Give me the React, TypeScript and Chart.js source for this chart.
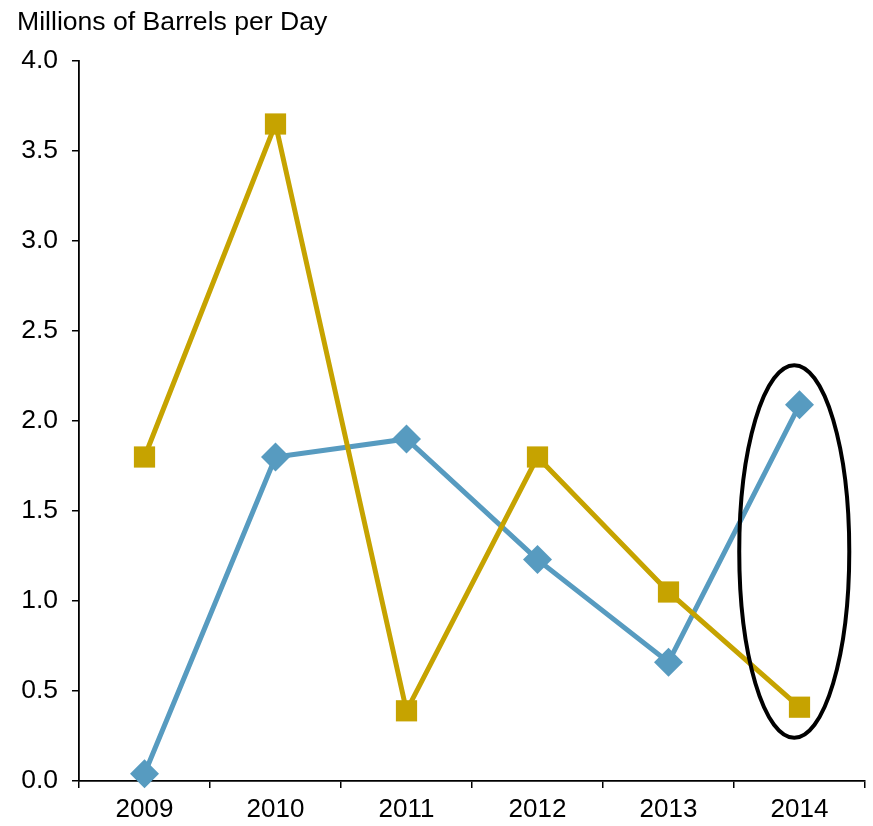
import React, { useEffect, useRef } from "react";
import { Chart, registerables } from "chart.js";

Chart.register(...registerables);

const years = ["2009", "2010", "2011", "2012", "2013", "2014"];
const goldSeries = [1.8, 3.65, 0.39, 1.8, 1.05, 0.41];
const blueSeries = [0.04, 1.8, 1.9, 1.23, 0.66, 2.09];
const yTicks = [0, 0.5, 1, 1.5, 2, 2.5, 3, 3.5, 4];
const axisTitle = "Millions of Barrels per Day";

// highlight ring around the last year (value range it spans)
const ringYear = 5;
const ringTop = 2.31;
const ringBottom = 0.24;

const FONT = "'Liberation Sans', Arial, Helvetica, sans-serif";
const GOLD = "#C6A300";
const BLUE = "#579BC0";

const titlePlugin = {
  id: "axisTitleText",
  afterDraw(chart: any) {
    const ctx = chart.ctx;
    ctx.save();
    ctx.fillStyle = "#000";
    ctx.font = `26.6px ${FONT}`;
    ctx.textBaseline = "alphabetic";
    ctx.textAlign = "left";
    ctx.fillText(axisTitle, 17, 30);
    ctx.restore();
  },
};

const ringPlugin = {
  id: "highlightRing",
  afterDatasetsDraw(chart: any) {
    const { ctx, scales } = chart;
    const x = scales.x;
    const y = scales.y;
    const step = x.getPixelForValue(1) - x.getPixelForValue(0);
    const cx = x.getPixelForValue(ringYear) - step * 0.04;
    const top = y.getPixelForValue(ringTop);
    const bottom = y.getPixelForValue(ringBottom);
    ctx.save();
    ctx.beginPath();
    ctx.ellipse(cx, (top + bottom) / 2, step * 0.42, (bottom - top) / 2, 0, 0, Math.PI * 2);
    ctx.lineWidth = 4;
    ctx.strokeStyle = "#000";
    ctx.stroke();
    ctx.restore();
  },
};

export default function App() {
  const ref = useRef<HTMLCanvasElement>(null);

  useEffect(() => {
    if (!ref.current) return;
    const chart = new Chart(ref.current, {
      type: "line",
      data: {
        labels: years,
        datasets: [
          {
            data: goldSeries,
            borderColor: GOLD,
            backgroundColor: GOLD,
            borderWidth: 5,
            pointStyle: "rect",
            pointRadius: 15,
            pointBorderWidth: 0,
            pointHoverRadius: 15,
            clip: false,
          },
          {
            data: blueSeries,
            borderColor: BLUE,
            backgroundColor: BLUE,
            borderWidth: 5,
            pointStyle: "rectRot",
            pointRadius: 14.5,
            pointBorderWidth: 0,
            pointHoverRadius: 14.5,
            clip: false,
          },
        ],
      },
      options: {
        responsive: false,
        animation: false,
        layout: { autoPadding: false, padding: { top: 61, right: 8, left: 0, bottom: 0 } },
        plugins: {
          legend: { display: false },
          tooltip: { enabled: false },
          title: { display: false },
        },
        scales: {
          x: {
            type: "category",
            offset: true,
            grid: {
              offset: true,
              drawOnChartArea: false,
              drawTicks: true,
              tickLength: 7,
              color: "#000",
              lineWidth: 1.5,
            },
            border: { display: true, color: "#000", width: 1.8 },
            ticks: {
              color: "#000",
              font: { family: FONT, size: 26 },
              padding: 6,
              maxRotation: 0,
            },
            afterFit(scale: any) {
              scale.height = 45;
            },
          },
          y: {
            min: 0,
            max: 4,
            afterBuildTicks(scale: any) {
              scale.ticks = yTicks.map((v) => ({ value: v }));
            },
            grid: {
              drawOnChartArea: false,
              drawTicks: true,
              tickLength: 7,
              color: "#000",
              lineWidth: 1.5,
            },
            border: { display: true, color: "#000", width: 1.8 },
            ticks: {
              color: "#000",
              font: { family: FONT, size: 26.5 },
              padding: 14,
              callback: (v: any) => Number(v).toFixed(1),
            },
            afterFit(scale: any) {
              scale.width = 79;
            },
          },
        },
      },
      plugins: [titlePlugin, ringPlugin],
    });
    return () => chart.destroy();
  }, []);

  return (
    <div style={{ position: "fixed", left: 0, top: 0, width: 873, height: 826, background: "#fff" }}>
      <canvas ref={ref} width={873} height={826} style={{ display: "block" }} />
    </div>
  );
}
